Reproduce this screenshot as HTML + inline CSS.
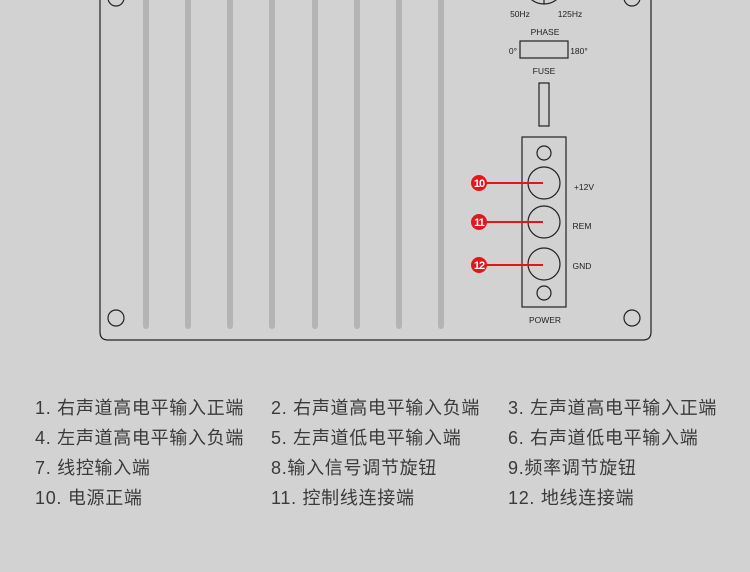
<!DOCTYPE html>
<html><head><meta charset="utf-8"><style>
body{margin:0;width:750px;height:572px;background:#d2d2d2;overflow:hidden;position:relative;font-family:"Liberation Sans","Noto Sans CJK SC",sans-serif}
.t{position:absolute;font-size:18px;letter-spacing:0.7px;color:#3a3a3a;white-space:nowrap;line-height:20px}
</style></head><body>
<svg width="750" height="572" style="position:absolute;left:0;top:0" font-family="Liberation Sans, sans-serif">
<path d="M100,-10 L100,332 Q100,340 108,340 L643,340 Q651,340 651,332 L651,-10" fill="none" stroke="#222" stroke-width="1.2"/>
<g stroke="#b4b4b4" stroke-width="6" stroke-linecap="round">
<line x1="146" y1="0" x2="146" y2="326"/><line x1="188" y1="0" x2="188" y2="326"/>
<line x1="230" y1="0" x2="230" y2="326"/><line x1="272" y1="0" x2="272" y2="326"/>
<line x1="315" y1="0" x2="315" y2="326"/><line x1="357" y1="0" x2="357" y2="326"/>
<line x1="399" y1="0" x2="399" y2="326"/><line x1="441" y1="0" x2="441" y2="326"/>
</g>
<g fill="none" stroke="#222" stroke-width="1.2">
<circle cx="116" cy="-2" r="8"/><circle cx="632" cy="-2" r="8"/>
<circle cx="116" cy="318" r="8"/><circle cx="632" cy="318" r="8"/>
<circle cx="544" cy="-16" r="20"/><line x1="544" y1="-16" x2="544" y2="4"/>
<rect x="520" y="41" width="48" height="17"/>
<rect x="539" y="83" width="10" height="43"/>
<rect x="522" y="137" width="44" height="170"/>
<circle cx="544" cy="153" r="7"/><circle cx="544" cy="183" r="16"/>
<circle cx="544" cy="222" r="16"/><circle cx="544" cy="264" r="16"/>
<circle cx="544" cy="293" r="7"/>
</g>
<g font-size="8.5" fill="#222" text-anchor="middle">
<text x="520" y="17">50Hz</text><text x="570" y="17">125Hz</text>
<text x="545" y="35">PHASE</text><text x="513" y="54">0°</text><text x="579" y="54">180°</text>
<text x="544" y="74">FUSE</text>
<text x="584" y="190">+12V</text><text x="582" y="229">REM</text><text x="582" y="269">GND</text>
<text x="545" y="323">POWER</text>
</g>
<g stroke="#e8141c" stroke-width="2"><line x1="479" y1="183" x2="543" y2="183"/><line x1="479" y1="222" x2="543" y2="222"/><line x1="479" y1="265" x2="543" y2="265"/></g>
<g fill="#e8141c"><circle cx="479" cy="183" r="8"/><circle cx="479" cy="222" r="8"/><circle cx="479" cy="265" r="8"/></g>
<g fill="#fff" font-size="11" font-weight="bold" text-anchor="middle" letter-spacing="-1">
<text x="479" y="187">10</text><text x="479" y="226">11</text><text x="479" y="269">12</text></g>
</svg>
<div class="t" style="left:35px;top:398px">1. 右声道高电平输入正端</div>
<div class="t" style="left:271px;top:398px">2. 右声道高电平输入负端</div>
<div class="t" style="left:508px;top:398px">3. 左声道高电平输入正端</div>
<div class="t" style="left:35px;top:428px">4. 左声道高电平输入负端</div>
<div class="t" style="left:271px;top:428px">5. 左声道低电平输入端</div>
<div class="t" style="left:508px;top:428px">6. 右声道低电平输入端</div>
<div class="t" style="left:35px;top:458px">7. 线控输入端</div>
<div class="t" style="left:271px;top:458px">8.输入信号调节旋钮</div>
<div class="t" style="left:508px;top:458px">9.频率调节旋钮</div>
<div class="t" style="left:35px;top:488px">10. 电源正端</div>
<div class="t" style="left:271px;top:488px">11. 控制线连接端</div>
<div class="t" style="left:508px;top:488px">12. 地线连接端</div>
</body></html>
